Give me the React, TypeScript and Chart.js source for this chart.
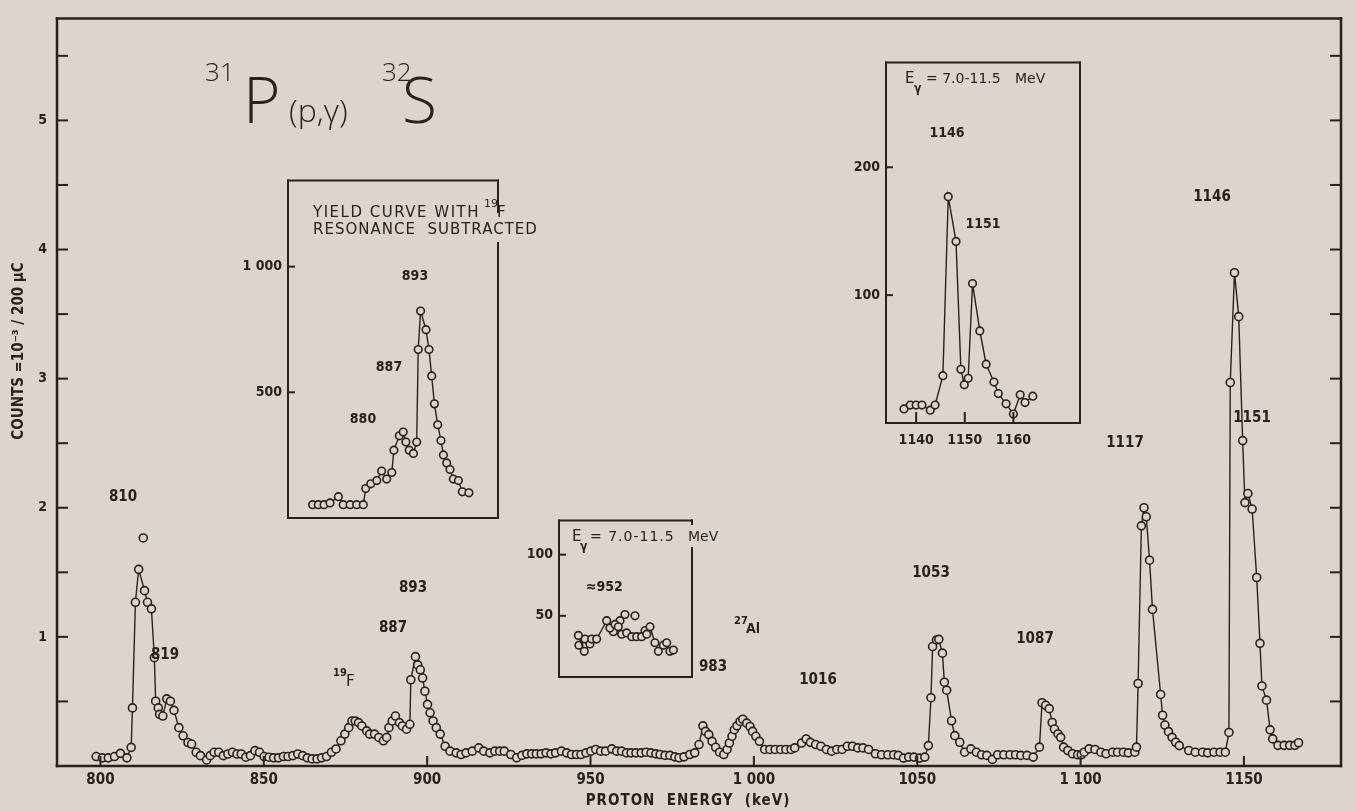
import React, { useEffect, useRef } from 'react';
import { Chart, registerables } from 'chart.js';
Chart.register(...registerables);

const BG = '#dbd5ce';
const INK = '#2a201d';
const FC = "'DejaVu Sans Condensed', 'Liberation Sans Narrow', 'DejaVu Sans', sans-serif";
const FN = "'DejaVu Sans', 'Liberation Sans', sans-serif";
const FT = "'Open Sans', 'DejaVu Sans', sans-serif";

// ---------- main spectrum: proton energy (keV) vs counts (x10^-3 / 200 uC)
const mainEnergy = [
  798.7, 800.6, 802.4, 804.3, 806.1, 808.1, 809.4, 809.8, 810.7, 811.7,
  813.5, 814.4, 815.6, 816.5, 816.9, 817.7, 818.1, 819.1, 820.3, 821.4,
  822.5, 824.0, 825.3, 826.8, 827.9, 829.3, 830.6, 832.5, 833.6, 834.8,
  836.2, 837.6, 839.0, 840.4, 841.8, 843.1, 844.5, 845.9, 847.3, 848.7,
  850.1, 851.6, 853.0, 854.5, 856.0, 857.4, 858.9, 860.4, 861.9, 863.3,
  864.8, 866.3, 867.7, 869.2, 870.7, 872.1, 873.6, 874.8, 876.0, 877.0,
  878.0, 879.0, 880.0, 881.5, 882.4, 883.9, 885.2, 886.6, 887.6, 888.3,
  889.3, 890.3, 891.5, 892.4, 893.7, 894.7, 895.0, 896.4, 897.1, 897.9,
  898.6, 899.3, 900.1, 900.9, 901.8, 902.8, 904.0,
  905.5, 907.0, 908.9, 910.4, 911.9, 913.8, 915.8, 917.3, 919.2, 920.7,
  922.2, 923.6, 925.6, 927.4, 929.0, 930.5, 932.0, 933.4, 934.9, 936.4,
  937.9, 939.3, 941.1, 942.7, 944.2, 945.7, 947.1, 948.6, 950.1, 951.6,
  953.1, 954.6, 956.5, 958.0, 959.5, 961.0, 962.4, 963.9, 965.5, 967.0,
  968.5, 970.0, 971.3, 972.8, 974.3, 975.8, 977.1, 978.6, 980.4, 981.9,
  983.2, 984.4, 985.2, 986.2, 987.2, 988.3, 989.5, 990.8, 991.8, 992.5,
  993.3, 994.0, 994.8, 995.8, 996.6, 997.8, 998.8, 999.6, 1000.6, 1001.7,
  1003.3, 1004.9, 1006.5, 1008.2, 1009.8, 1011.4, 1012.5, 1014.6, 1016.0, 1017.3,
  1018.9, 1020.5, 1022.2, 1023.8, 1025.4, 1027.0, 1028.6, 1030.2, 1031.8, 1033.4,
  1035.1,
  1037.2, 1039.1, 1041.0, 1042.8, 1044.2, 1045.8, 1047.4, 1049.0, 1050.7, 1052.3,
  1053.4, 1054.2, 1054.7, 1055.9, 1056.6, 1057.7, 1058.3, 1059.0, 1060.5, 1061.5,
  1063.0, 1064.5, 1066.4, 1068.1, 1069.7, 1071.3, 1073.0, 1074.6, 1076.5, 1078.4,
  1080.1, 1081.7, 1083.6, 1085.5, 1087.4, 1088.2, 1089.3, 1090.4, 1091.3, 1092.0,
  1093.1, 1093.9, 1094.8, 1096.1, 1097.5, 1099.1, 1100.2, 1101.1, 1102.6, 1104.4,
  1106.2, 1107.8, 1109.8, 1111.3, 1113.1, 1114.6, 1116.6, 1117.1, 1117.6, 1118.6,
  1119.4, 1120.1, 1121.1, 1122.0, 1124.5, 1125.1, 1125.8, 1126.9, 1128.0, 1129.1,
  1130.2, 1133.1, 1135.1, 1137.3, 1138.9, 1140.8, 1142.7, 1144.3, 1145.4, 1145.8,
  1147.1, 1148.4, 1149.6, 1150.3, 1151.2, 1152.5, 1153.9, 1154.9, 1155.5, 1156.9,
  1158.0, 1158.8, 1160.4, 1162.3, 1164.0, 1165.6, 1166.7,
];
const mainCounts = [
  0.073, 0.063, 0.063, 0.073, 0.098, 0.063, 0.144, 0.450, 1.268, 1.523,
  1.358, 1.268, 1.217, 0.839, 0.502, 0.450, 0.400, 0.387, 0.520, 0.502,
  0.431, 0.297, 0.234, 0.182, 0.170, 0.106, 0.080, 0.047, 0.080, 0.106,
  0.106, 0.080, 0.093, 0.106, 0.093, 0.093, 0.068, 0.080, 0.119, 0.106,
  0.073, 0.068, 0.063, 0.063, 0.073, 0.073, 0.080, 0.093, 0.080, 0.063,
  0.055, 0.055, 0.063, 0.073, 0.106, 0.132, 0.195, 0.247, 0.297, 0.349,
  0.349, 0.336, 0.310, 0.272, 0.247, 0.247, 0.221, 0.195, 0.221, 0.297,
  0.349, 0.387, 0.336, 0.310, 0.285, 0.323, 0.668, 0.847, 0.783, 0.745,
  0.681, 0.579, 0.477, 0.412, 0.349, 0.297, 0.247,
  0.153, 0.115, 0.102, 0.089, 0.102, 0.115, 0.140, 0.115, 0.102, 0.115,
  0.115, 0.115, 0.089, 0.064, 0.082, 0.094, 0.094, 0.094, 0.094, 0.102,
  0.094, 0.102, 0.115, 0.102, 0.089, 0.089, 0.089, 0.102, 0.115, 0.128,
  0.115, 0.115, 0.133, 0.115, 0.115, 0.102, 0.102, 0.102, 0.102, 0.107,
  0.102, 0.094, 0.089, 0.082, 0.082, 0.071, 0.064, 0.071, 0.089, 0.102,
  0.166, 0.311, 0.268, 0.243, 0.191, 0.145, 0.107, 0.089, 0.128, 0.178,
  0.230, 0.281, 0.311, 0.345, 0.362, 0.332, 0.306, 0.268, 0.230, 0.191,
  0.128, 0.128, 0.128, 0.128, 0.128, 0.128, 0.140, 0.178, 0.209, 0.183,
  0.166, 0.153, 0.128, 0.115, 0.128, 0.128, 0.153, 0.153, 0.140, 0.140,
  0.128,
  0.095, 0.087, 0.087, 0.087, 0.082, 0.061, 0.069, 0.069, 0.061, 0.069,
  0.158, 0.529, 0.925, 0.976, 0.981, 0.874, 0.649, 0.587, 0.350, 0.235,
  0.184, 0.107, 0.133, 0.107, 0.087, 0.082, 0.051, 0.087, 0.087, 0.087,
  0.087, 0.082, 0.082, 0.069, 0.146, 0.490, 0.470, 0.444, 0.337, 0.286,
  0.248, 0.222, 0.146, 0.120, 0.095, 0.087, 0.087, 0.107, 0.133, 0.128,
  0.107, 0.095, 0.107, 0.107, 0.107, 0.102, 0.107, 0.146, 0.639, 1.86,
  2.00, 1.93, 1.594, 1.213, 0.554, 0.393, 0.317, 0.266, 0.222, 0.184,
  0.158, 0.120, 0.107, 0.107, 0.102, 0.107, 0.107, 0.107, 0.260, 2.97,
  3.82, 3.48, 2.52, 2.04, 2.11, 1.99, 1.46, 0.95, 0.62, 0.51,
  0.28, 0.21, 0.16, 0.16, 0.16, 0.16, 0.18,
];
const strayEnergy = [813.1];
const strayCounts = [1.766];
const mainXTicks = [800, 850, 900, 950, 1000, 1050, 1100, 1150];
const mainYTicks = [0.5, 1, 1.5, 2, 2.5, 3, 3.5, 4, 4.5, 5, 5.5];

// ---------- inset: yield curve with 19F resonance subtracted
const yieldEnergy = [
  857.2, 859.1, 861.0, 863.0, 865.8, 867.4, 869.7, 871.9, 874.1, 874.9,
  876.6, 878.6, 880.2, 881.9, 883.6, 884.3, 886.1, 887.4, 888.3, 889.4,
  890.8, 891.9, 892.4, 893.2, 895.0, 896.0, 896.9, 897.8, 898.9, 900.0,
  900.8, 901.9, 903.0, 904.1, 905.8, 907.1, 909.3,
];
const yieldCounts = [
  53, 53, 53, 60, 85, 53, 53, 53, 53, 117,
  136, 149, 187, 155, 181, 270, 327, 342, 302, 270,
  257, 302, 670, 823, 749, 670, 565, 454, 371, 308,
  251, 219, 193, 155, 149, 104, 100,
];
const yieldYTicks = [500, 1000];

// ---------- inset: E_gamma = 7.0-11.5 MeV around 952 keV
const e952Energy = [
  930.2, 933.3, 936.3, 937.2, 939.8, 945.1, 946.8, 949.5, 951.2, 953.0,
  955.6, 958.3, 960.9, 963.5, 966.2, 967.9, 970.5, 972.3, 974.9, 976.7,
  978.4, 980.2,
];
const e952Counts = [
  34, 21, 27, 31, 31, 46, 40, 43, 41, 35,
  36, 33, 33, 33, 35, 41, 28, 21, 26, 28,
  21, 22,
];
const e952ExtraEnergy = [930.5, 933.7, 948.6, 952.1, 954.7, 960.0, 965.3];
const e952ExtraCounts = [26, 31, 37, 46, 51, 50, 38];
const e952YTicks = [50, 100];

// ---------- inset: E_gamma = 7.0-11.5 MeV around 1146/1151 keV
const e1146Energy = [
  1137.5, 1138.8, 1140.0, 1141.2, 1142.9, 1143.9, 1145.5, 1146.6, 1148.2, 1149.2,
  1149.9, 1150.7, 1151.6, 1153.1, 1154.4, 1156.0, 1156.9, 1158.5, 1160.0, 1161.4,
  1162.4, 1164.0,
];
const e1146Counts = [
  11, 14, 14, 14, 10, 14, 37, 177, 142, 42,
  30, 35, 109, 72, 46, 32, 23, 15, 7, 22,
  16, 21,
];
const e1146XTicks = [1140, 1150, 1160];
const e1146YTicks = [100, 200];

// ---------- layout / text
type TextItem = {
  t: string; x: number; y: number; font: string;
  align?: CanvasTextAlign; base?: CanvasTextBaseline; rot?: number; ls?: string;
};
const B = (s: number) => `bold ${s}px ${FC}`;
const N = (s: number) => `${s}px ${FN}`;
const T = (s: number) => `300 ${s}px ${FT}`;
const lab = (t: string, x: number, y: number, s = 15): TextItem => ({ t, x, y, font: B(s), align: 'center', base: 'middle' });
const lft = (t: string, x: number, y: number, font: string, ls?: string): TextItem => ({ t, x, y, font, align: 'left', base: 'middle', ls });

const mainTexts: TextItem[] = [
  { t: '31', x: 205, y: 81, font: T(26), align: 'left', base: 'alphabetic' },
  { t: 'P', x: 243, y: 123, font: T(64), align: 'left', base: 'alphabetic' },
  { t: '(p,γ)', x: 289, y: 122, font: T(32), align: 'left', base: 'alphabetic' },
  { t: '32', x: 382, y: 81, font: T(26), align: 'left', base: 'alphabetic' },
  { t: 'S', x: 402, y: 123, font: T(64), align: 'left', base: 'alphabetic' },
  { t: 'COUNTS =10⁻³ / 200 µC', x: 19, y: 351, font: B(15), align: 'center', base: 'middle', rot: -Math.PI / 2 },
  { t: 'PROTON  ENERGY  (keV)', x: 688, y: 801, font: B(15), align: 'center', base: 'middle', ls: '1px' },
  lab('810', 123, 497), lab('819', 165, 655), lab('887', 393, 628), lab('893', 413, 588),
  lab('983', 713, 667), lab('1016', 818, 680), lab('1053', 931, 573), lab('1087', 1035, 639),
  lab('1117', 1125, 443), lab('1146', 1212, 197), lab('1151', 1252, 418),
  lft('19', 333, 673, B(11)), lft('F', 346, 682, N(15)),
  lft('27', 734, 621, B(11)), lft('Al', 746, 629, B(14)),
];
const yieldTexts: TextItem[] = [
  lft('YIELD CURVE WITH', 313, 213, N(15), '1.5px'),
  lft('19', 484, 204, N(11)), lft('F', 497, 213, N(15)),
  lft('RESONANCE  SUBTRACTED', 313, 230, N(15), '1px'),
  lab('893', 415, 276, 14), lab('887', 389, 367, 14), lab('880', 363, 419, 14),
];
const e952Texts: TextItem[] = [
  lft('E', 572, 537, N(15)), lft('γ', 580, 547, B(12)),
  lft('= 7.0-11.5', 590, 537, N(14), '1px'), lft('MeV', 688, 537, N(14)),
  lft('≈952', 586, 587, B(14)),
];
const e1146Texts: TextItem[] = [
  lft('E', 905, 79, N(15)), lft('γ', 914, 89, B(12)),
  lft('= 7.0-11.5', 926, 79, N(14)), lft('MeV', 1015, 79, N(14)),
  lab('1146', 947, 133, 14), lab('1151', 983, 224, 14),
];

type Spec = {
  left: number; top: number; w: number; h: number;
  area: { l: number; t: number; r: number; b: number };
  xMin: number; xMax: number; yMin: number; yMax: number;
  xTicks: number[]; yTicks: number[]; showX: boolean;
  xLabel: (v: number) => string; yLabel: (v: number) => string;
  xFont: number; yFont: number; xPad: number; yPad: number;
  leftTick: number; rightTick: number; bottomTick: number;
  frameW: number; rightGaps: number[][];
  series: { xs: number[]; ys: number[]; line: boolean }[];
  texts: TextItem[];
  radius: number;
};

const thousand = (v: number) => (v === 1000 ? '1 000' : v === 1100 ? '1 100' : String(v));

const specs: Spec[] = [
  {
    left: 0, top: 0, w: 1356, h: 811, area: { l: 57, t: 10, r: 1341, b: 766 },
    xMin: 786.7, xMax: 1179.7, yMin: 0, yMax: 5.79,
    xTicks: mainXTicks, yTicks: mainYTicks, showX: true,
    xLabel: thousand, yLabel: (v) => (Number.isInteger(v) ? String(v) : ''),
    xFont: 15, yFont: 14, xPad: 5, yPad: 10,
    leftTick: 11, rightTick: 11, bottomTick: 10, frameW: 2.5, rightGaps: [],
    series: [
      { xs: mainEnergy, ys: mainCounts, line: true },
      { xs: strayEnergy, ys: strayCounts, line: false },
    ],
    texts: mainTexts, radius: 4,
  },
  {
    left: 220, top: 166, w: 340, h: 372, area: { l: 288, t: 176, r: 498, b: 528 },
    xMin: 849, xMax: 919, yMin: 0, yMax: 1343,
    xTicks: [], yTicks: yieldYTicks, showX: false,
    xLabel: String, yLabel: thousand,
    xFont: 14, yFont: 14, xPad: 6, yPad: 6,
    leftTick: 7, rightTick: 0, bottomTick: 0, frameW: 2, rightGaps: [[212, 243]],
    series: [{ xs: yieldEnergy, ys: yieldCounts, line: true }],
    texts: yieldTexts, radius: 3.8,
  },
  {
    left: 500, top: 506, w: 230, h: 191, area: { l: 559, t: 516, r: 692, b: 687 },
    xMin: 920, xMax: 990, yMin: 0, yMax: 128,
    xTicks: [], yTicks: e952YTicks, showX: false,
    xLabel: String, yLabel: String,
    xFont: 14, yFont: 14, xPad: 6, yPad: 6,
    leftTick: 7, rightTick: 0, bottomTick: 0, frameW: 2, rightGaps: [[524, 548]],
    series: [
      { xs: e952Energy, ys: e952Counts, line: true },
      { xs: e952ExtraEnergy, ys: e952ExtraCounts, line: false },
    ],
    texts: e952Texts, radius: 3.8,
  },
  {
    left: 830, top: 48, w: 260, h: 410, area: { l: 886, t: 58, r: 1080, b: 423 },
    xMin: 1133.8, xMax: 1173.7, yMin: 0, yMax: 282,
    xTicks: e1146XTicks, yTicks: e1146YTicks, showX: true,
    xLabel: String, yLabel: String,
    xFont: 14, yFont: 14, xPad: 9, yPad: 6,
    leftTick: 7, rightTick: 0, bottomTick: 11, frameW: 2, rightGaps: [],
    series: [{ xs: e1146Energy, ys: e1146Counts, line: true }],
    texts: e1146Texts, radius: 3.8,
  },
];

function decor(spec: Spec) {
  return {
    id: 'decor',
    afterDraw(chart: any) {
      const ctx: CanvasRenderingContext2D = chart.ctx;
      const a = chart.chartArea;
      const xs = chart.scales.x;
      const ys = chart.scales.y;
      const seg = (x1: number, y1: number, x2: number, y2: number) => {
        ctx.beginPath(); ctx.moveTo(x1, y1); ctx.lineTo(x2, y2); ctx.stroke();
      };
      ctx.save();
      ctx.strokeStyle = INK;
      ctx.lineCap = 'square';
      ctx.lineWidth = spec.frameW;
      seg(a.left, a.top, a.right, a.top);
      seg(a.left, a.top, a.left, a.bottom);
      seg(a.left, a.bottom, a.right, a.bottom);
      let y0 = a.top;
      for (const g of spec.rightGaps) {
        seg(a.right, y0, a.right, g[0] - spec.top);
        y0 = g[1] - spec.top;
      }
      seg(a.right, y0, a.right, a.bottom);
      ctx.lineCap = 'butt';
      ctx.lineWidth = 2;
      for (const t of ys.ticks) {
        const p = ys.getPixelForValue(t.value);
        if (spec.leftTick) seg(a.left, p, a.left + spec.leftTick, p);
        if (spec.rightTick) seg(a.right, p, a.right - spec.rightTick, p);
      }
      if (spec.bottomTick) {
        for (const t of xs.ticks) {
          const p = xs.getPixelForValue(t.value);
          seg(p, a.bottom, p, a.bottom - spec.bottomTick);
        }
      }
      ctx.fillStyle = INK;
      for (const t of spec.texts) {
        ctx.save();
        ctx.font = t.font;
        ctx.textAlign = t.align || 'left';
        ctx.textBaseline = t.base || 'middle';
        (ctx as any).letterSpacing = t.ls || '0px';
        ctx.translate(t.x - spec.left, t.y - spec.top);
        if (t.rot) ctx.rotate(t.rot);
        ctx.fillText(t.t, 0, 0);
        ctx.restore();
      }
      ctx.restore();
    },
  };
}

function buildConfig(spec: Spec): any {
  const datasets = spec.series.map((s) => ({
    data: s.xs.map((x, i) => ({ x, y: s.ys[i] })),
    showLine: s.line,
    borderColor: INK,
    borderWidth: 1.4,
    pointRadius: spec.radius,
    pointBorderWidth: 1.6,
    pointBackgroundColor: BG,
    pointBorderColor: INK,
    tension: 0,
  }));
  return {
    type: 'scatter',
    data: { datasets },
    plugins: [decor(spec)],
    options: {
      responsive: false,
      animation: false,
      devicePixelRatio: 1,
      events: [],
      layout: {
        padding: {
          left: 0,
          top: spec.area.t - spec.top,
          right: spec.left + spec.w - spec.area.r,
          bottom: spec.showX ? 0 : spec.top + spec.h - spec.area.b,
        },
      },
      plugins: { legend: { display: false }, tooltip: { enabled: false } },
      scales: {
        x: {
          type: 'linear',
          display: spec.showX,
          min: spec.xMin,
          max: spec.xMax,
          afterBuildTicks: (s: any) => { s.ticks = spec.xTicks.map((v) => ({ value: v })); },
          afterFit: (s: any) => { s.height = spec.top + spec.h - spec.area.b; },
          grid: { display: false, drawTicks: false },
          border: { display: false },
          ticks: {
            color: INK,
            autoSkip: false,
            maxRotation: 0,
            padding: spec.xPad,
            font: { family: FC, size: spec.xFont, weight: 'bold' },
            callback: (v: any) => spec.xLabel(Number(v)),
          },
        },
        y: {
          type: 'linear',
          min: spec.yMin,
          max: spec.yMax,
          afterBuildTicks: (s: any) => { s.ticks = spec.yTicks.map((v) => ({ value: v })); },
          afterFit: (s: any) => { s.width = spec.area.l - spec.left; },
          grid: { display: false, drawTicks: false },
          border: { display: false },
          ticks: {
            color: INK,
            autoSkip: false,
            padding: spec.yPad,
            font: { family: FC, size: spec.yFont, weight: 'bold' },
            callback: (v: any) => spec.yLabel(Number(v)),
          },
        },
      },
    },
  };
}

function Panel({ spec }: { spec: Spec }) {
  const ref = useRef<HTMLCanvasElement | null>(null);
  useEffect(() => {
    if (!ref.current) return;
    const chart = new Chart(ref.current, buildConfig(spec));
    return () => chart.destroy();
  }, [spec]);
  return (
    <canvas
      ref={ref}
      width={spec.w}
      height={spec.h}
      style={{ position: 'absolute', left: spec.left, top: spec.top, width: spec.w, height: spec.h }}
    />
  );
}

export default function App() {
  return (
    <div style={{ position: 'fixed', left: 0, top: 0, width: 1356, height: 811, background: BG, overflow: 'hidden' }}>
      {specs.map((s, i) => (
        <Panel key={i} spec={s} />
      ))}
    </div>
  );
}
